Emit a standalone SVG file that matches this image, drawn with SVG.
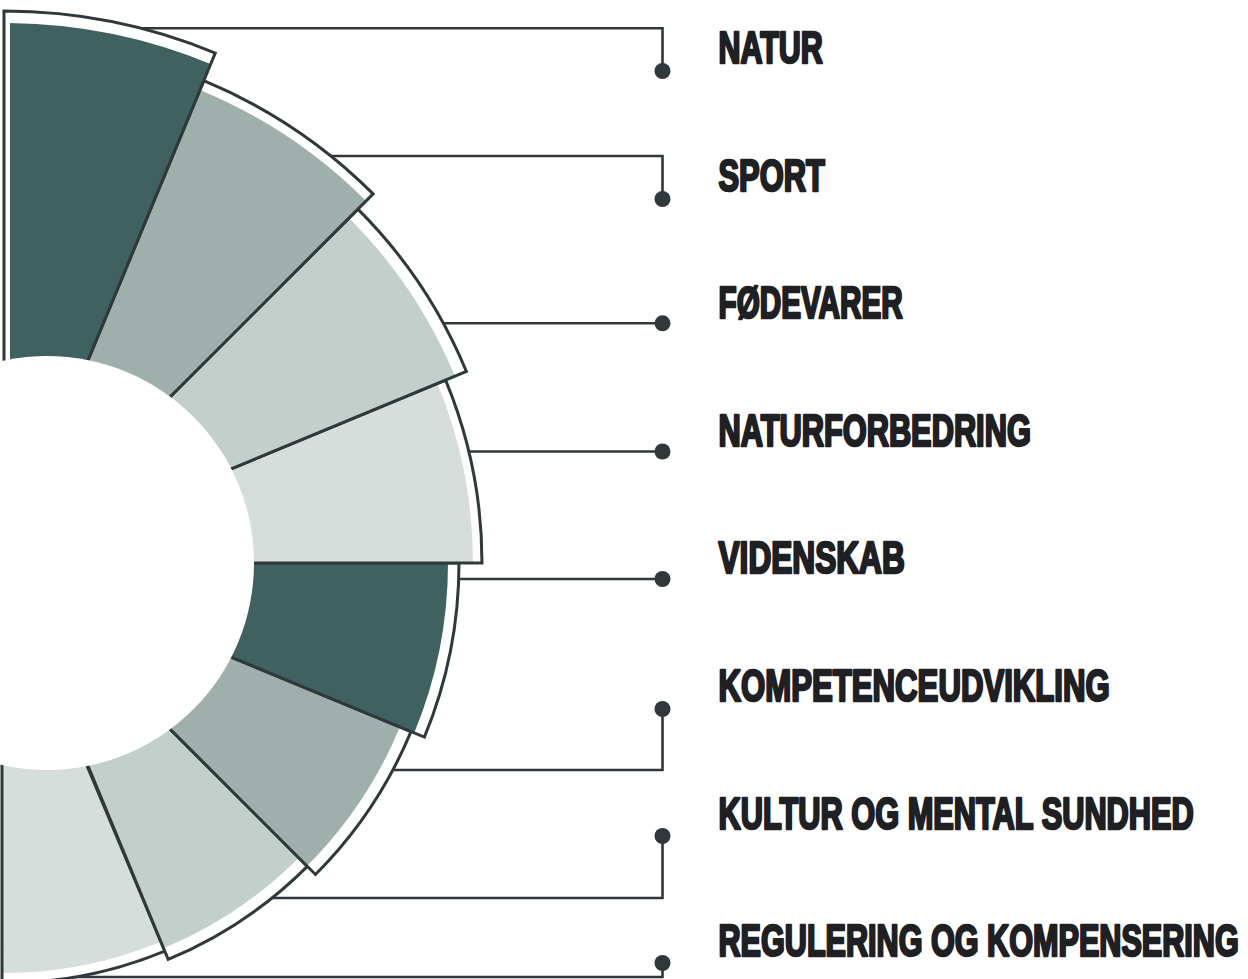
<svg xmlns="http://www.w3.org/2000/svg" width="1248" height="979" viewBox="0 0 1248 979">
  <defs>
    <style>
      .bg { fill: #ffffff; }
      .frame-bg { fill: #ffffff; stroke: none; }
      .frame-line { fill: none; stroke: #2f393c; stroke-width: 3; stroke-linejoin: miter; }
      .dark { fill: #3f615f; }
      .mid { fill: #9eafac; }
      .light { fill: #c3cfcb; }
      .pale { fill: #d5dedb; }
      .hole { fill: #ffffff; }
      .link { fill: none; stroke: #2f393c; stroke-width: 2.6; }
      .dot { fill: #2f393c; }
      .label { font-family: "Liberation Sans", Arial, sans-serif; font-weight: bold; font-size: 43.5px; fill: #1f2023; stroke: #1f2023; stroke-width: 2.6; stroke-linejoin: round; }
    </style>
    <!-- outer frames of the eight ring segments (centre 4,563) -->
    <path id="f1" d="M4,563 L4,11 A552,552 0 0 1 215.24,53.02 Z"/>
    <path id="f2" d="M4,563 L203.76,80.73 A522,522 0 0 1 373.11,193.89 Z"/>
    <path id="f3" d="M4,563 L357.91,209.09 A500.5,500.5 0 0 1 466.40,371.47 Z"/>
    <path id="f4" d="M4,563 L445.61,380.08 A478,478 0 0 1 482,563 Z"/>
    <path id="f5" d="M4,563 L459,563 A455,455 0 0 1 424.37,737.12 Z"/>
    <path id="f6" d="M4,563 L410.97,731.57 A440.5,440.5 0 0 1 315.48,874.48 Z"/>
    <path id="f7" d="M4,563 L307.35,866.35 A429,429 0 0 1 168.17,959.34 Z"/>
    <path id="f8" d="M2,563 L164.73,951.03 A420,420 0 0 1 2,983 Z"/>
  </defs>

  <rect class="bg" x="0" y="0" width="1248" height="979"/>

  <!-- leader lines from each ring segment to its label -->
  <g id="connectors">
    <path class="link" d="M130,28.3 H662.5 V71"/>
    <path class="link" d="M320,156 H662.5 V199"/>
    <path class="link" d="M435,323.3 H662.5"/>
    <path class="link" d="M460,451.5 H662.5"/>
    <path class="link" d="M450,579 H662.5"/>
    <path class="link" d="M385,770 H662.5 V709"/>
    <path class="link" d="M262,898 H662.5 V836"/>
    <path class="link" d="M65,977 H662.5 V963"/>
    <circle class="dot" cx="662.5" cy="71" r="8"/>
    <circle class="dot" cx="662.5" cy="199" r="8"/>
    <circle class="dot" cx="662.5" cy="323.3" r="8"/>
    <circle class="dot" cx="662.5" cy="451.5" r="8"/>
    <circle class="dot" cx="662.5" cy="579" r="8"/>
    <circle class="dot" cx="662.5" cy="709" r="8"/>
    <circle class="dot" cx="662.5" cy="836" r="8"/>
    <circle class="dot" cx="662.5" cy="963" r="8"/>
  </g>

  <!-- ring segments, painted from the bottom one up so each far edge overlaps the next -->
  <g id="seg-regulering">
    <use href="#f8" class="frame-bg"/>
    <path class="pale" d="M3,563 L160.90,941.79 A410,410 0 0 1 3,973 Z"/>
    <use href="#f8" class="frame-line"/>
  </g>
  <g id="seg-kultur">
    <use href="#f7" class="frame-bg"/>
    <path class="light" d="M4,563 L298.86,857.86 A417,417 0 0 1 163.58,948.26 Z"/>
    <use href="#f7" class="frame-line"/>
  </g>
  <g id="seg-kompetenceudvikling">
    <use href="#f6" class="frame-bg"/>
    <path class="mid" d="M4,563 L399.88,726.98 A428.5,428.5 0 0 1 306.99,865.99 Z"/>
    <use href="#f6" class="frame-line"/>
  </g>
  <g id="seg-videnskab">
    <use href="#f5" class="frame-bg"/>
    <path class="dark" d="M4,563 L448,563 A444,444 0 0 1 414.20,732.91 Z"/>
    <use href="#f5" class="frame-line"/>
  </g>
  <g id="seg-naturforbedring">
    <use href="#f4" class="frame-bg"/>
    <path class="pale" d="M4,563 L437.30,383.52 A469,469 0 0 1 473,563 Z"/>
    <use href="#f4" class="frame-line"/>
  </g>
  <g id="seg-foedevarer">
    <use href="#f3" class="frame-bg"/>
    <path class="light" d="M4,563 L349.07,217.93 A488,488 0 0 1 454.85,376.25 Z"/>
    <use href="#f3" class="frame-line"/>
  </g>
  <g id="seg-sport">
    <use href="#f2" class="frame-bg"/>
    <path class="mid" d="M4,563 L199.93,89.97 A512,512 0 0 1 366.04,200.96 Z"/>
    <use href="#f2" class="frame-line"/>
  </g>
  <g id="seg-natur">
    <use href="#f1" class="frame-bg"/>
    <path class="dark" d="M10,563 L10,23.03 A540,540 0 0 1 210.65,64.10 L4,563 Z"/>
    <use href="#f1" class="frame-line"/>
  </g>

  <!-- hollow centre of the ring -->
  <circle class="hole" cx="47" cy="563" r="207"/>

  <!-- labels: bold sans squeezed horizontally to a condensed cut -->
  <g id="labels">
    <text class="label" transform="translate(718.5,62.8) scale(0.68,1)" textLength="153.5" lengthAdjust="spacingAndGlyphs">NATUR</text>
    <text class="label" transform="translate(718.5,190.8) scale(0.68,1)" textLength="156.4" lengthAdjust="spacingAndGlyphs">SPORT</text>
    <text class="label" transform="translate(718.5,318.3) scale(0.68,1)" textLength="271" lengthAdjust="spacingAndGlyphs">FØDEVARER</text>
    <text class="label" transform="translate(718.5,445.8) scale(0.68,1)" textLength="459.3" lengthAdjust="spacingAndGlyphs">NATURFORBEDRING</text>
    <text class="label" transform="translate(718.5,572.8) scale(0.68,1)" textLength="274" lengthAdjust="spacingAndGlyphs">VIDENSKAB</text>
    <text class="label" transform="translate(718.5,700.8) scale(0.68,1)" textLength="575.4" lengthAdjust="spacingAndGlyphs">KOMPETENCEUDVIKLING</text>
    <text class="label" transform="translate(718.5,828.8) scale(0.68,1)" textLength="699" lengthAdjust="spacingAndGlyphs">KULTUR OG MENTAL SUNDHED</text>
    <text class="label" transform="translate(718.5,956.3) scale(0.68,1)" textLength="765" lengthAdjust="spacingAndGlyphs">REGULERING OG KOMPENSERING</text>
  </g>
</svg>
